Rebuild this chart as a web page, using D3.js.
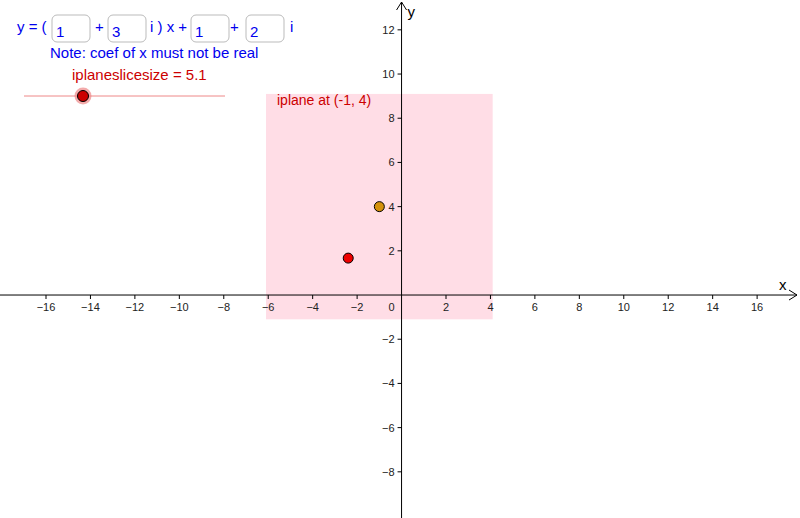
<!DOCTYPE html><html><head><meta charset="utf-8"><script src="https://cdn.jsdelivr.net/npm/d3@7"></script>
<style>body{margin:0;background:#fff}text{font-family:"Liberation Sans",Arial,sans-serif}</style></head><body>
<svg id="c" width="800" height="518"></svg>
<script>
const xTicks=[-16,-14,-12,-10,-8,-6,-4,-2,2,4,6,8,10,12,14,16];
const yTicks=[-8,-6,-4,-2,2,4,6,8,10,12];
const iplaneCenter=[-1,4];
const sliceSize=5.1;
const redPoint=[-2.4,1.67];
const coefs=["1","3","1","2"];
const svg=d3.select("#c");
const x=d3.scaleLinear().domain([-18.07,17.93]).range([0,800]);
const y=d3.scaleLinear().domain([13.35,-10.09]).range([0,518]);
const X0=x(0),Y0=y(0);
// iplane rect
svg.append("rect").attr("x",x(iplaneCenter[0]-sliceSize)).attr("y",y(iplaneCenter[1]+sliceSize))
 .attr("width",x(iplaneCenter[0]+sliceSize)-x(iplaneCenter[0]-sliceSize))
 .attr("height",y(iplaneCenter[1]-sliceSize)-y(iplaneCenter[1]+sliceSize)).attr("fill","#ffdde6");
// axes
svg.append("line").attr("x1",0).attr("x2",797).attr("y1",Y0).attr("y2",Y0).attr("stroke","#000");
svg.append("line").attr("x1",X0).attr("x2",X0).attr("y1",518).attr("y2",2).attr("stroke","#000");
svg.append("path").attr("d",`M${789},${Y0-5}L797,${Y0}L789,${Y0+5}`).attr("fill","none").attr("stroke","#000");
svg.append("path").attr("d",`M${X0-5},10L${X0},2L${X0+5},10`).attr("fill","none").attr("stroke","#000");
svg.append("text").attr("x",779).attr("y",Y0-5).attr("font-size",15).text("x");
svg.append("text").attr("x",X0+6).attr("y",17).attr("font-size",15).text("y");
const fmt=v=>v<0?"\u2212"+(-v):""+v;
xTicks.forEach(v=>{svg.append("line").attr("x1",x(v)).attr("x2",x(v)).attr("y1",Y0).attr("y2",Y0+4).attr("stroke","#000");
 svg.append("text").attr("x",x(v)).attr("y",Y0+16).attr("text-anchor","middle").attr("font-size",11).attr("fill","#222").text(fmt(v));});
yTicks.forEach(v=>{svg.append("line").attr("x1",X0-4).attr("x2",X0).attr("y1",y(v)).attr("y2",y(v)).attr("stroke","#000");
 svg.append("text").attr("x",X0-7).attr("y",y(v)+4).attr("text-anchor","end").attr("font-size",11).attr("fill","#222").text(fmt(v));});
svg.append("text").attr("x",X0-7).attr("y",Y0+16).attr("text-anchor","end").attr("font-size",11).attr("fill","#222").text("0");
// points
svg.append("circle").attr("cx",x(redPoint[0])).attr("cy",y(redPoint[1])).attr("r",5).attr("fill","#e00").attr("stroke","#000");
svg.append("circle").attr("cx",x(iplaneCenter[0])).attr("cy",y(iplaneCenter[1])).attr("r",5).attr("fill","#d4900a").attr("stroke","#000");
svg.append("text").attr("x",277).attr("y",105).attr("font-size",14).attr("fill","#cc0000").text(`iplane at (${iplaneCenter[0]}, ${iplaneCenter[1]})`);
// equation
const blue="#0000ee";
const eqTexts=[[17,"y = ("],[95,"+"],[150,"i ) x +"],[230,"+"],[290,"i"]];
eqTexts.forEach(([px,t])=>svg.append("text").attr("x",px).attr("y",32).attr("font-size",15).attr("fill",blue).text(t));
[52,108,191,246].forEach((px,i)=>{svg.append("rect").attr("x",px).attr("y",15).attr("width",38).attr("height",27).attr("rx",5).attr("fill","#fff").attr("stroke","#bbb");
 svg.append("text").attr("x",px+4).attr("y",37).attr("font-size",15).attr("fill",blue).text(coefs[i]);});
svg.append("text").attr("x",50).attr("y",58).attr("font-size",15).attr("fill",blue).text("Note: coef of x must not be real");
svg.append("text").attr("x",72).attr("y",80).attr("font-size",15).attr("fill","#cc0000").text("iplaneslicesize = "+sliceSize);
svg.append("line").attr("x1",24).attr("x2",225).attr("y1",96).attr("y2",96).attr("stroke","#e88").attr("stroke-width",1);
svg.append("circle").attr("cx",83).attr("cy",96).attr("r",8.5).attr("fill","#e88").attr("opacity",0.7);
svg.append("circle").attr("cx",83).attr("cy",96).attr("r",5.5).attr("fill","#cc0000").attr("stroke","#000");
</script></body></html>
